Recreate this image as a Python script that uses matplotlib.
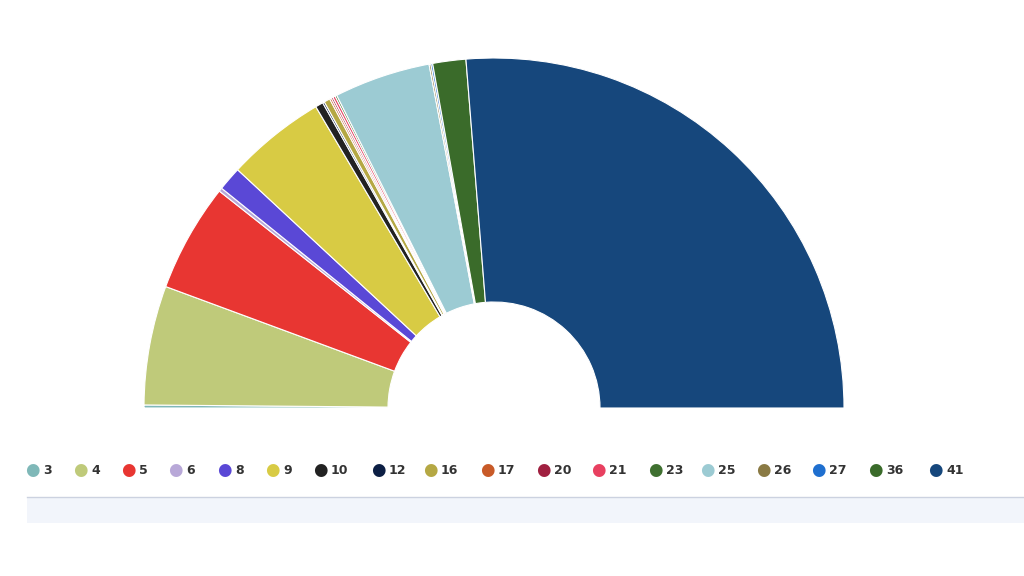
import matplotlib
matplotlib.use("Agg")
import matplotlib.pyplot as plt
from matplotlib.patches import Rectangle

labels = ["3","4","5","6","8","9","10","12","16","17","20","21","23","25","26","27","36","41"]
values = [0.5,19.8,18.0,0.6,4.0,16.5,1.3,0.3,1.0,0.3,0.3,0.4,0.3,16.0,0.3,0.3,5.5,94.6]
colors = ["#7fb8b8","#bfca7a","#e83632","#b8a8d8","#5a48d6","#d8cb44","#222222","#0c1f44",
          "#b5a844","#c85a28","#a02040","#e84060","#3f7030","#9ccbd3","#8a7a44","#1f6fcf",
          "#3a6b2a","#16477c"]

W, H = 1024, 576
fig = plt.figure(figsize=(W/100, H/100), dpi=100)
cx, cy, R = 494, 408, 350
ax = fig.add_axes([(cx-R)/W, (H-cy-R)/H, 2*R/W, 2*R/H])
total = sum(values)
vals = values + [total]
cols = colors + [(0,0,0,0)]
wedges, _ = ax.pie(vals, colors=cols, startangle=180, counterclock=False, radius=1,
                   wedgeprops=dict(width=1-106/350, edgecolor="white", linewidth=0.8))
wedges[-1].set_edgecolor((0,0,0,0))
for w in wedges:
    w.set_clip_on(False)
ax.set_xlim(-1,1); ax.set_ylim(-1,1); ax.set_aspect("equal"); ax.axis("off")

# legend
xs = [32,80,128,175,224,272,320,378,430,487,543,598,655,707,763,818,875,935]
ly = 1 - 470/H
for x, lab, c in zip(xs, labels, colors):
    fig.text(x/W, ly, "\u25cf", color=c, fontsize=12, ha="center", va="center")
    fig.text((x+11)/W, ly, lab, color="#333333", fontsize=9, fontweight="bold", ha="left", va="center")

# navigator band
fig.patches.append(Rectangle((27/W, 1-523/H), (W-27)/W, 26/H, transform=fig.transFigure,
                             facecolor="#f2f5fb", edgecolor="none"))
fig.lines.append(plt.Line2D([27/W, 1], [1-497/H, 1-497/H], transform=fig.transFigure,
                            color="#ccd2e0", linewidth=1))
fig.savefig("out.png", dpi=100)
